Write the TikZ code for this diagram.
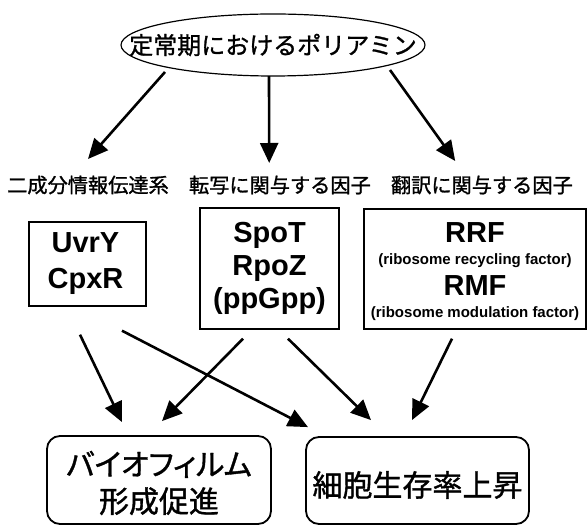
\documentclass[tikz,border=0pt]{standalone}
\usepackage{fontspec}
\setmainfont{Liberation Sans}
\newfontfamily\jp[FakeBold=1.2]{Noto Sans CJK JP}
\newfontfamily\jpp[FakeBold=1.2,RawFeature=+palt]{Noto Sans CJK JP}
\usetikzlibrary{arrows.meta}
\begin{document}
\begin{tikzpicture}[x=1pt,y=-1pt,
  arr/.style={line width=2.6pt,-{Triangle[length=20pt,width=18pt]}},
  sqbox/.style={draw,line width=1.4pt,inner sep=0pt,align=center},
  rbox/.style={draw,line width=1.8pt,rounded corners=13pt,inner sep=0pt,align=center},
  cat/.style={font=\jp\fontsize{20.2}{22}\selectfont,inner sep=0pt,anchor=west},
  big/.style={font=\bfseries\fontsize{29}{34}\selectfont,inner sep=0pt,align=center},
  small/.style={font=\bfseries\fontsize{15}{17}\selectfont,inner sep=0pt,anchor=base}]
\useasboundingbox (0,0) rectangle (587,526);

% top ellipse
\node[minimum width=304pt,minimum height=62pt,inner sep=0pt,font=\jp\fontsize{24}{26}\selectfont]
  (poly) at (273,45) {定常期におけるポリアミン};
\draw[line width=1.2pt] (poly.center) ellipse [x radius=152pt,y radius=31pt];

% category labels
\node[cat] (c1) at (7,185) {二成分情報伝達系};
\node[cat] (c2) at (188.8,185) {転写に関与する因子};
\node[cat] (c3) at (390.8,185) {翻訳に関与する因子};

% boxes
\node[sqbox,minimum width=117pt,minimum height=84pt] (b1) at (87.5,264) {};
\node[big,font=\bfseries\fontsize{29}{36}\selectfont] (t1) at ([xshift=-2pt]b1.center) {UvrY\\CpxR};
\node[sqbox,minimum width=139pt,minimum height=121pt] (b2) at (269.5,268.5) {};
\node[big,font=\bfseries\fontsize{29}{33}\selectfont] (t2) at (b2.center) {SpoT\\RpoZ\\(ppGpp)};
\node[sqbox,minimum width=222pt,minimum height=120pt] (b3) at (475,269) {};
\node[big,anchor=base] (rrf) at (475,243) {RRF};
\node[small] (rrfl) at (475,265) {(ribosome recycling factor)};
\node[big,anchor=base] (rmf) at (475,296) {RMF};
\node[small] (rmfl) at (475,318) {(ribosome modulation factor)};

% bottom boxes
\node[rbox,minimum width=224pt,minimum height=88pt] (ba) at (159,480) {};
\node[inner sep=0pt,align=center,font=\jpp\fontsize{30}{37}\selectfont] (ta) at (159,483) {バイオフィルム\\{\jp 形成促進}};
\node[rbox,minimum width=223pt,minimum height=87pt] (bb) at (417.5,480.5) {};
\node[inner sep=0pt,font=\jp\fontsize{30}{34}\selectfont] (tb) at (417.5,485) {細胞生存率上昇};

% top arrows
\draw[arr] ([xshift=-108pt,yshift=-27pt]poly.center) -- ([xshift=0pt,yshift=26pt]c1.center);
\draw[arr] ([xshift=-4pt]poly.south) -- ([xshift=-10.7pt,yshift=22pt]c2.center);
\draw[arr] ([xshift=117pt,yshift=-25pt]poly.center) -- ([xshift=-26.7pt,yshift=24pt]c3.center);

% bottom arrows
\draw[arr] ([xshift=-7.5pt,yshift=-28pt]b1.south) -- ([xshift=-37pt,yshift=13pt]ba.north);
\draw[arr] ([xshift=34.5pt,yshift=-24pt]b1.south) -- ([xshift=-109.5pt,yshift=9pt]bb.north);
\draw[arr] ([xshift=-26.5pt,yshift=-9pt]b2.south) -- ([xshift=3pt,yshift=14pt]ba.north);
\draw[arr] ([xshift=18.5pt,yshift=-9pt]b2.south) -- ([xshift=-46.5pt,yshift=16pt]bb.north);
\draw[arr] ([xshift=-23pt,yshift=-9pt]b3.south) -- ([xshift=-5.5pt,yshift=16pt]bb.north);
\end{tikzpicture}
\end{document}
